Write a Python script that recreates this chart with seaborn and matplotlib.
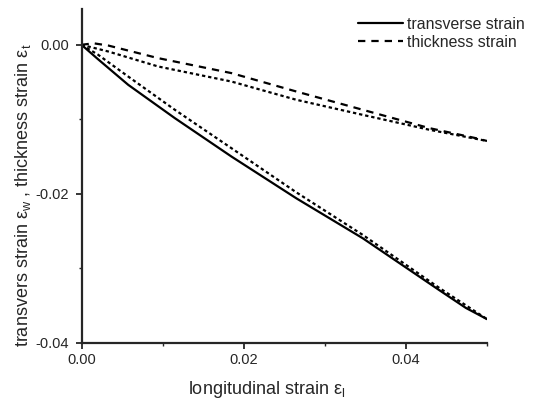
import matplotlib
matplotlib.use("Agg")
import matplotlib.pyplot as plt
import seaborn as sns
from matplotlib.ticker import MultipleLocator, FormatStrFormatter

# ---- data ----
x_trans = [0.0, 0.002, 0.00576, 0.01151, 0.01849, 0.0265, 0.03468, 0.0441, 0.0474, 0.05]
y_trans = [0.0, -0.0019, -0.00537, -0.00984, -0.01499, -0.0206, -0.02595, -0.0329, -0.0353, -0.0368]

x_trans_model = [0.0, 0.002, 0.00576, 0.01151, 0.01849, 0.0265, 0.03468, 0.0441, 0.05]
y_trans_model = [0.0, -0.0013, -0.00426, -0.00872, -0.01387, -0.0198, -0.0255, -0.0326, -0.0368]

x_thick = [0.0, 0.0015, 0.0033, 0.00945, 0.01849, 0.0265, 0.03468, 0.0429, 0.0486, 0.05]
y_thick = [0.0, 0.0002, -0.0001, -0.00179, -0.0038, -0.00627, -0.00872, -0.01118, -0.01252, -0.0129]

x_thick_model = [0.0, 0.0033, 0.00945, 0.01849, 0.0265, 0.03468, 0.0429, 0.05]
y_thick_model = [0.0, -0.0009, -0.00291, -0.00493, -0.00738, -0.0094, -0.0114, -0.0129]

legend_labels = ["transverse strain", "thickness strain"]

sns.set_style("ticks")
plt.rcParams['font.family'] = ['Liberation Sans', 'DejaVu Sans']
plt.rcParams['mathtext.fontset'] = 'custom'
plt.rcParams['mathtext.rm'] = 'Liberation Sans'
plt.rcParams['mathtext.it'] = 'Liberation Sans:italic'

fig = plt.figure(figsize=(5.37, 3.99), dpi=100)
L, R, T, B = 81.5, 487, 9, 343
ax = fig.add_axes([L/537, 1-B/399, (R-L)/537, (B-T)/399])

lw = 1.6
sns.lineplot(x=x_trans, y=y_trans, ax=ax, color='black', lw=lw, sort=False,
             label=legend_labels[0])
sns.lineplot(x=x_thick, y=y_thick, ax=ax, color='black', lw=lw, sort=False,
             linestyle=(0, (3.3, 2.7)), label=legend_labels[1])
sns.lineplot(x=x_trans_model, y=y_trans_model, ax=ax, color='black', lw=lw, sort=False,
             linestyle=(0, (1.5, 1.3)), label='_nolegend_')
sns.lineplot(x=x_thick_model, y=y_thick_model, ax=ax, color='black', lw=lw, sort=False,
             linestyle=(0, (1.5, 1.3)), label='_nolegend_')

ax.set_xlim(0, 0.05)
ax.set_ylim(-0.04, 0.0048)
ax.xaxis.set_major_locator(MultipleLocator(0.02))
ax.xaxis.set_minor_locator(MultipleLocator(0.01))
ax.yaxis.set_major_locator(MultipleLocator(0.02))
ax.yaxis.set_minor_locator(MultipleLocator(0.01))
ax.xaxis.set_major_formatter(FormatStrFormatter('%.2f'))
ax.yaxis.set_major_formatter(FormatStrFormatter('%.2f'))
ax.tick_params(which='major', direction='out', length=4, width=1.3, labelsize=10.5)
ax.tick_params(axis='x', which='major', pad=3)
ax.tick_params(axis='y', which='major', pad=5)
ax.tick_params(which='minor', direction='out', length=2, width=1.0)

for s in ['top', 'right']:
    ax.spines[s].set_visible(False)
for s in ['left', 'bottom']:
    ax.spines[s].set_linewidth(1.6)

ax.set_xlabel(r"longitudinal strain ε$_{\mathrm{l}}$", fontsize=13)
ax.xaxis.set_label_coords((267 - L)/(R - L), -(390 - B)/(B - T))
ax.set_ylabel(r"transvers strain ε$_{\mathrm{w}}$ , thickness strain ε$_{\mathrm{t}}$",
              fontsize=13)
ax.yaxis.set_label_coords(-(L - 23)/(R - L), (B - 195)/(B - T))
ax.yaxis.label.set_va('center')
ax.xaxis.label.set_va('center')

leg = ax.legend(loc='upper left', bbox_to_anchor=(358/537, 1 - 17/399), bbox_transform=fig.transFigure,
                frameon=False, fontsize=11.4, handlelength=2.85, handletextpad=0.22,
                labelspacing=0.18, borderaxespad=0.0, borderpad=0.0)

fig.savefig("out.png", dpi=100)
